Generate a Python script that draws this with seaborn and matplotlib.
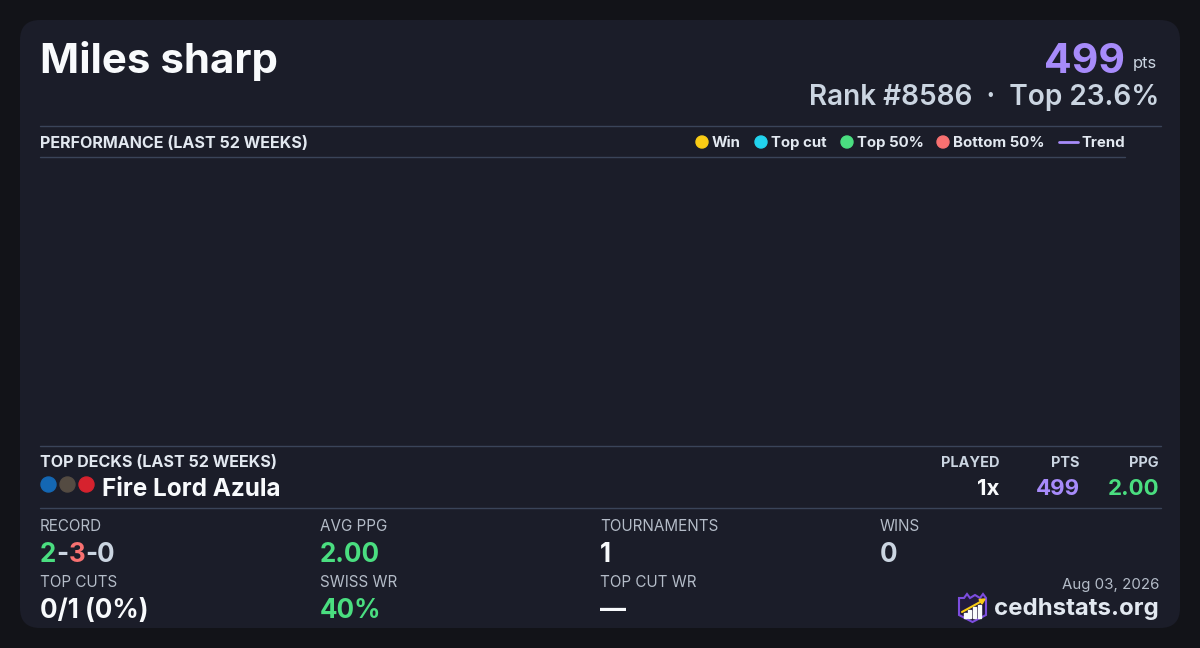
import seaborn as sns
import matplotlib.pyplot as plt
from matplotlib.patches import FancyBboxPatch, Circle, Polygon, Rectangle
from matplotlib.lines import Line2D

# --- data ---
player_name = "Miles sharp"
total_pts = "499"
rank_text = "Rank #8586  \u00b7  Top 23.6%"
perf_title = "PERFORMANCE (LAST 52 WEEKS)"
legend_labels = ["Win", "Top cut", "Top 50%", "Bottom 50%", "Trend"]
legend_colors = ["#facc15", "#22d3ee", "#4ade80", "#f87171", "#a78bfa"]
# no tournaments in the performance window -> empty series
weeks = []
placements = []
trend = []

decks_title = "TOP DECKS (LAST 52 WEEKS)"
deck_name = "Fire Lord Azula"
deck_colors = ["#1467b3", "#544b42", "#d6222e"]
deck_headers = ["PLAYED", "PTS", "PPG"]
deck_values = ["1x", "499", "2.00"]

stat_labels = ["RECORD", "AVG PPG", "TOURNAMENTS", "WINS", "TOP CUTS", "SWISS WR", "TOP CUT WR"]
stat_values = ["2-3-0", "2.00", "1", "0", "0/1 (0%)", "40%", "\u2014"]
date_text = "Aug 03, 2026"
site_text = "cedhstats.org"

BG = "#121318"
CARD = "#1b1d29"
RULE = "#3a4459"
GREEN = "#4ade80"
RED = "#f87171"
PURPLE = "#a78bfa"
LIGHT = "#cbd5e1"
WHITE = "#f8fafc"
MUTED = "#b4bcc8"

sns.set_theme(style="dark")
plt.rcParams['font.family'] = ['Inter', 'DejaVu Sans']


def pt(px):
    return px * 0.72


fig = plt.figure(figsize=(12, 6.48), dpi=100, facecolor=BG)
ax = fig.add_axes([0, 0, 1, 1])
ax.set_xlim(0, 1200)
ax.set_ylim(648, 0)
ax.axis("off")

ax.add_patch(FancyBboxPatch((20, 20), 1160, 608, boxstyle="round,pad=0,rounding_size=20",
                            facecolor=CARD, edgecolor="none"))

# header
ax.text(40, 73, player_name, fontsize=pt(42), fontweight="bold", color=WHITE, va="baseline")
ax.text(1125, 73, total_pts, fontsize=pt(41), fontweight="bold", color=PURPLE, va="baseline", ha="right")
ax.text(1133, 68, "pts", fontsize=pt(16.5), color=LIGHT, va="baseline")
ax.text(1159, 105, rank_text, fontsize=pt(28), fontweight="semibold", color=LIGHT, va="baseline", ha="right")

# performance section
ax.add_line(Line2D([40, 1161], [126, 126], color=RULE, lw=1))
ax.add_line(Line2D([40, 1125], [156.5, 156.5], color=RULE, lw=1))
ax.text(40, 148, perf_title, fontsize=pt(16.1), fontweight="bold", color="#e2e8f0", va="baseline")

dot_x = [702, 761, 847, 943]
text_x = [712, 771, 857, 953]
for i in range(4):
    ax.add_patch(Circle((dot_x[i], 142), 6, color=legend_colors[i]))
    ax.text(text_x[i], 147, legend_labels[i], fontsize=pt(15), fontweight="bold",
            color="#e2e8f0", va="baseline")
ax.add_line(Line2D([1059, 1078], [142, 142], color=legend_colors[4], lw=2))
ax.text(1081, 147, legend_labels[4], fontsize=pt(15), fontweight="bold", color="#e2e8f0", va="baseline")

chart_ax = fig.add_axes([40 / 1200, 1 - 446 / 648, 1085 / 1200, 289 / 648])
chart_ax.set_facecolor("none")
sns.scatterplot(x=weeks, y=placements, ax=chart_ax)
sns.lineplot(x=weeks, y=trend, ax=chart_ax, color=PURPLE)
chart_ax.axis("off")

# top decks
ax.add_line(Line2D([40, 1161], [446, 446], color=RULE, lw=1))
ax.add_line(Line2D([40, 1161], [508, 508], color=RULE, lw=1))
ax.text(40, 467, decks_title, fontsize=pt(16.1), fontweight="bold", color="#e2e8f0", va="baseline")
for i, c in enumerate(deck_colors):
    ax.add_patch(Circle((48.5 + i * 19, 484.5), 7.5, color=c))
ax.text(102, 496, deck_name, fontsize=pt(24.3), fontweight="bold", color=WHITE, va="baseline")

col_right = [999, 1080, 1159]
val_colors = [WHITE, PURPLE, GREEN]
for i in range(3):
    ax.text(col_right[i], 467, deck_headers[i], fontsize=pt(14.5), fontweight="bold",
            color=LIGHT, va="baseline", ha="right")
    ax.text(col_right[i], 495, deck_values[i], fontsize=pt(22.3), fontweight="bold",
            color=val_colors[i], va="baseline", ha="right")

# stats grid
stat_x = [40, 320, 600, 880, 40, 320, 600]
label_y = [531, 531, 531, 531, 587, 587, 587]
value_y = [562, 562, 562, 562, 618, 618, 618]
value_colors = [None, GREEN, WHITE, LIGHT, WHITE, GREEN, WHITE]
for i in range(len(stat_labels)):
    ax.text(stat_x[i], label_y[i], stat_labels[i], fontsize=pt(15.2), color=MUTED, va="baseline")
    if i == 0:
        continue
    ax.text(stat_x[i], value_y[i], stat_values[i], fontsize=pt(26), fontweight="bold",
            color=value_colors[i], va="baseline")

# record in pieces: wins green, losses red, draws grey
renderer = fig.canvas.get_renderer()
pieces = stat_values[0].split("-")
piece_colors = [GREEN, LIGHT, RED, LIGHT, LIGHT]
parts = [pieces[0], "-", pieces[1], "-", pieces[2]]
x = 40
for part, col in zip(parts, piece_colors):
    t = ax.text(x, 562, part, fontsize=pt(26), fontweight="bold", color=col, va="baseline")
    bb = t.get_window_extent(renderer=renderer)
    x = ax.transData.inverted().transform((bb.x1, bb.y0))[0]

# footer
ax.text(1159, 589, date_text, fontsize=pt(15), color=MUTED, va="baseline", ha="right")
ax.text(1159, 615, site_text, fontsize=pt(24), fontweight="bold", color="#e2e8f0", va="baseline", ha="right")

# logo
shield = [(959, 598), (964, 598), (967, 594), (970, 598), (975, 595), (980, 598), (983, 594),
          (986, 598), (986, 615), (972.5, 622), (959, 615)]
ax.add_patch(Polygon(shield, closed=True, facecolor="#231a3d", edgecolor="#7c4dde", lw=1.5))
for bx, bh in [(964, 5), (968, 8), (973, 11), (978, 13)]:
    ax.add_patch(Rectangle((bx, 618 - bh), 2.5, bh, color=WHITE))
ax.add_line(Line2D([962, 982], [612, 601], color="#facc15", lw=1.5))
ax.add_patch(Polygon([(985, 599), (979, 599.5), (982, 604)], closed=True, color="#facc15"))

fig.savefig("out.png", dpi=100, facecolor=BG)
